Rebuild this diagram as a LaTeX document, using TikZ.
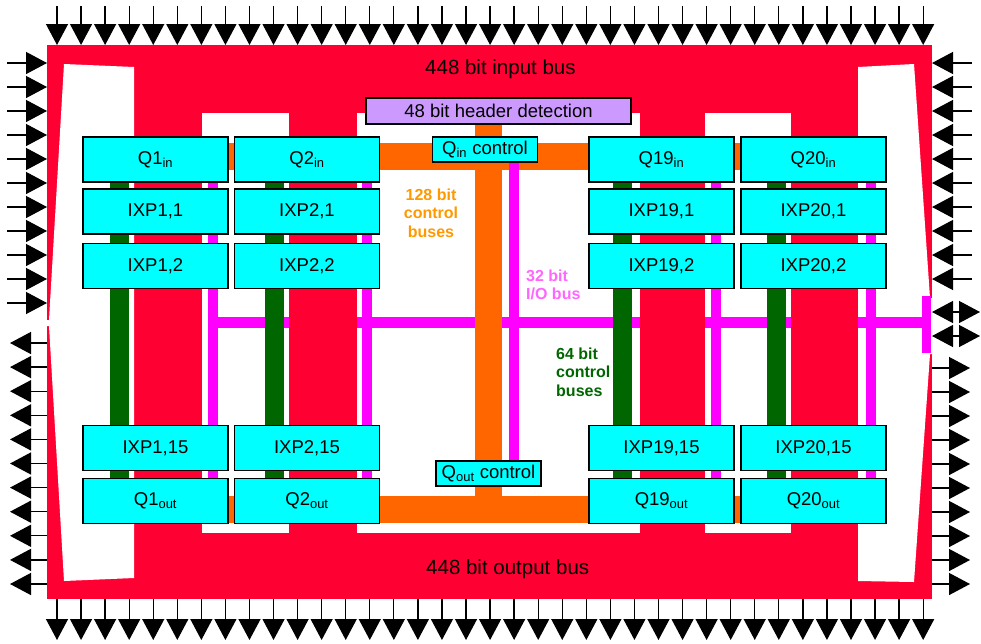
\documentclass[tikz,border=0pt]{standalone}
\usepackage{fontspec}
\setmainfont{Liberation Sans}
\usetikzlibrary{arrows.meta}
\definecolor{chipred}{RGB}{255,0,51}
\definecolor{boxcyan}{RGB}{0,255,255}
\definecolor{busorange}{RGB}{255,102,0}
\definecolor{busgreen}{RGB}{0,102,0}
\definecolor{busmag}{RGB}{255,0,255}
\definecolor{hdrpurple}{RGB}{204,153,255}
\definecolor{lblorange}{RGB}{255,153,0}
\definecolor{lblpink}{RGB}{255,102,255}
\pgfdeclarelayer{chip}
\pgfdeclarelayer{bus}
\pgfsetlayers{chip,bus,main}

\begin{document}
\begin{tikzpicture}[x=1pt,y=-1pt,
	ixpbox/.style={draw,line width=1.6pt,fill=boxcyan,minimum width=145pt,minimum height=45pt,inner sep=0pt,font=\fontsize{18.5}{20}\selectfont},
	ctlbox/.style={ixpbox,minimum width=105pt,minimum height=25pt},
	hdrbox/.style={ixpbox,fill=hdrpurple,minimum width=265pt,minimum height=26pt},
	iopin/.style={line width=1.3pt,-{Triangle[length=21pt,width=22pt]}},
	bipin/.style={line width=1.3pt,{Triangle[length=21pt,width=22pt]}-{Triangle[length=21pt,width=22pt]}},
	obus/.style={busorange,line width=27pt},
	mbus/.style={busmag,line width=10pt},
	gbus/.style={busgreen,line width=19pt},
	buslabel/.style={font=\fontsize{16}{18.5}\selectfont\bfseries,inner sep=0pt},
	chiplabel/.style={font=\fontsize{20.5}{22}\selectfont,anchor=west,inner sep=0pt}]
	\useasboundingbox (0,0) rectangle (981,643);
	\begin{pgfonlayer}{chip}
		\fill[chipred] (47,45) rectangle (932,599);
		\fill[white] (64,64) -- (134,67) -- (134,578) -- (64,581) -- (49,326) -- (45,326) -- (45,320) -- (49,320) -- cycle;
		\fill[white] (858,67) -- (914,64) -- (930,298) -- (934,298) -- (934,354) -- (930,354) -- (914,582) -- (858,581) -- cycle;
		\foreach \a/\b in {202/289,357/640,705/791}
			\fill[white] (\a,113) rectangle (\b,533);
	\end{pgfonlayer}
	\node[chiplabel] (inbus) at (425,69.5) {448 bit input bus};
	\node[chiplabel] (outbus) at (426,569) {448 bit output bus};
	\node[hdrbox] (hdr) at (498.5,111) {48 bit header detection};
	\node[ctlbox] (qinctl) at (485,149.5) {Q\textsubscript{in} control};
	\node[ctlbox] (qoutctl) at (488.5,473.5) {Q\textsubscript{out} control};
	\foreach \c/\x in {1/155.5,2/307,19/661.5,20/813.5}{
		\node[ixpbox] (qin\c) at (\x,159.5) {Q\c\textsubscript{in}};
		\node[ixpbox] (ixp\c-1) at (\x,211.5) {IXP\c,1};
		\node[ixpbox] (ixp\c-2) at (\x,266) {IXP\c,2};
		\node[ixpbox] (ixp\c-15) at (\x,448) {IXP\c,15};
		\node[ixpbox] (qout\c) at (\x,501) {Q\c\textsubscript{out}};
	}
	\begin{pgfonlayer}{bus}
		\foreach \a/\b in {208/289,357/640,705/791,858/922}
			\fill[busmag] (\a,317) rectangle (\b,328);
		\fill[busmag] (922,296) rectangle (931,353);
		\draw[obus] ([yshift=3pt]qin1.center) -- ([yshift=3pt]qin20.center);
		\draw[obus] ([yshift=-8pt]qout1.center) -- ([yshift=-8pt]qout20.center);
		\draw[obus] (hdr.south -| qoutctl.center) -- (qoutctl.center |- qout1.center);
		\draw[mbus] ([xshift=29pt]qinctl.south) -- ([xshift=25.5pt]qoutctl.north);
		\foreach \c/\g/\m in {1/-36/57.5,2/-33/59.5,19/-39/54,20/-37/57}{
			\draw[mbus] ([xshift=\m pt]qin\c.center) -- ([xshift=\m pt]qout\c.center);
			\draw[gbus] ([xshift=\g pt]qin\c.center) -- ([xshift=\g pt]qout\c.center);
		}
	\end{pgfonlayer}
	\node[buslabel,text=lblorange,align=center] (ctl128) at (431,213) {128 bit\\control\\buses};
	\node[buslabel,text=lblpink,align=left,anchor=west] (io32) at (526,285) {32 bit\\I/O bus};
	\node[buslabel,text=busgreen,align=left,anchor=west] (ctl64) at (556,372) {64 bit\\control\\buses};
	\foreach \i in {0,...,36}{
		\draw[iopin] ({57+\i*24.06},6) -- ({57+\i*24.06},45);
		\draw[iopin] ({57+\i*24.06},599) -- ({57+\i*24.06},640);
	}
	\foreach \i in {0,...,10}{
		\draw[iopin] (7,{63+\i*24}) -- (47,{63+\i*24});
		\draw[iopin] (47,{343+\i*24.1}) -- (10,{343+\i*24.1});
	}
	\foreach \i in {0,...,9}{
		\draw[iopin] (972,{63+\i*24}) -- (932,{63+\i*24});
		\draw[iopin] (932,{368+\i*24}) -- (970,{368+\i*24});
	}
	\foreach \y in {312,336}
		\draw[bipin] (932,\y) -- (980,\y);
\end{tikzpicture}
\end{document}
